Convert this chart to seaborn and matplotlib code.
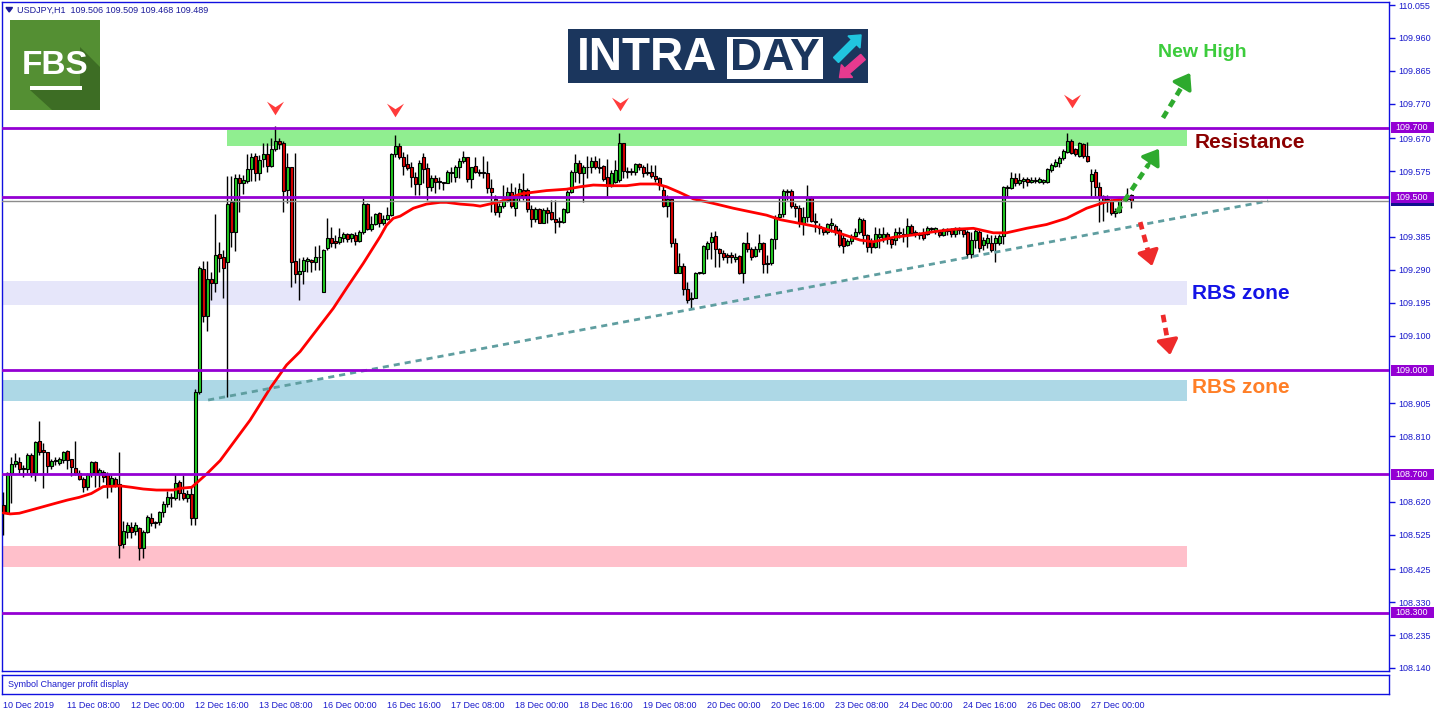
import numpy as np
import matplotlib
matplotlib.use("Agg")
import matplotlib.pyplot as plt
import matplotlib.transforms as mtransforms
from matplotlib.patches import Rectangle, Polygon, FancyArrow
from matplotlib.path import Path
import seaborn as sns

# ---------------- data (USDJPY H1) ----------------
opens = [108.611,108.587,108.702,108.729,108.734,108.719,108.716,108.755,108.702,108.795,
108.769,108.765,108.723,108.738,108.733,108.741,108.767,108.743,108.719,108.702,
108.686,108.662,108.702,108.734,108.702,108.707,108.700,108.668,108.686,108.671,
108.497,108.534,108.548,108.537,108.545,108.486,108.534,108.572,108.563,108.561,
108.590,108.613,108.630,108.630,108.678,108.645,108.632,108.642,108.572,108.938,
109.292,109.158,109.264,109.251,109.336,109.328,109.312,109.487,109.400,109.554,
109.540,109.548,109.580,109.619,109.569,109.609,109.626,109.591,109.638,109.662,
109.655,109.521,109.586,109.316,109.277,109.287,109.317,109.319,109.314,109.326,
109.227,109.352,109.381,109.373,109.371,109.381,109.393,109.381,109.391,109.374,
109.398,109.480,109.408,109.423,109.453,109.424,109.437,109.449,109.625,109.648,
109.617,109.596,109.588,109.557,109.538,109.615,109.585,109.530,109.554,109.543,
109.544,109.542,109.569,109.559,109.586,109.603,109.615,109.551,109.590,109.573,
109.573,109.569,109.526,109.495,109.456,109.474,109.492,109.514,109.468,109.504,
109.521,109.521,109.465,109.437,109.465,109.426,109.463,109.456,109.437,109.431,
109.429,109.458,109.514,109.572,109.600,109.569,109.587,109.588,109.604,109.587,
109.590,109.557,109.533,109.545,109.550,109.655,109.576,109.575,109.572,109.595,
109.588,109.569,109.572,109.561,109.554,109.521,109.474,109.495,109.369,109.282,
109.302,109.234,109.209,109.209,109.280,109.280,109.350,109.371,109.388,109.350,
109.340,109.334,109.332,109.320,109.330,109.282,109.369,109.349,109.330,109.350,
109.369,109.309,109.309,109.379,109.443,109.451,109.519,109.519,109.474,109.468,
109.426,109.443,109.499,109.432,109.417,109.410,109.400,109.419,109.417,109.405,
109.381,109.362,109.374,109.388,109.398,109.434,109.391,109.374,109.357,109.386,
109.381,109.393,109.378,109.376,109.400,109.395,109.393,109.417,109.398,109.395,
109.395,109.395,109.410,109.403,109.400,109.391,109.407,109.405,109.395,109.410,
109.405,109.400,109.337,109.376,109.400,109.362,109.369,109.369,109.369,109.369,
109.388,109.528,109.525,109.554,109.542,109.547,109.551,109.543,109.547,109.545,
109.545,109.545,109.578,109.591,109.600,109.612,109.631,109.663,109.638,109.619,
109.653,109.619,109.548,109.573,109.530,109.503,109.496,109.490,109.453,109.458,
109.494,109.501,109.506]

highs = [108.649,108.707,108.750,108.762,108.750,108.726,108.760,108.762,108.795,108.853,
108.789,108.765,108.743,108.750,108.750,108.767,108.770,108.745,108.795,108.712,
108.692,108.702,108.739,108.739,108.719,108.712,108.707,108.697,108.692,108.765,
108.565,108.563,108.561,108.563,108.548,108.539,108.582,108.587,108.566,108.594,
108.622,108.652,108.646,108.700,108.683,108.697,108.654,108.662,108.945,109.301,
109.315,109.315,109.285,109.451,109.371,109.347,109.561,109.561,109.566,109.566,
109.564,109.626,109.628,109.628,109.622,109.655,109.657,109.670,109.705,109.670,
109.662,109.628,109.588,109.628,109.323,109.326,109.328,109.321,109.359,109.362,
109.349,109.441,109.414,109.391,109.410,109.400,109.397,109.396,109.400,109.405,
109.499,109.482,109.445,109.455,109.456,109.448,109.471,109.628,109.680,109.655,
109.629,109.626,109.602,109.573,109.607,109.627,109.598,109.564,109.564,109.557,
109.545,109.578,109.588,109.593,109.612,109.633,109.617,109.588,109.615,109.580,
109.619,109.605,109.551,109.506,109.482,109.535,109.530,109.540,109.530,109.542,
109.569,109.525,109.477,109.472,109.468,109.468,109.472,109.492,109.492,109.442,
109.468,109.521,109.578,109.626,109.607,109.593,109.619,109.617,109.619,109.612,
109.593,109.609,109.578,109.607,109.684,109.657,109.588,109.583,109.598,109.598,
109.593,109.598,109.593,109.593,109.557,109.535,109.506,109.497,109.381,109.340,
109.309,109.256,109.227,109.285,109.285,109.362,109.374,109.400,109.402,109.352,
109.347,109.340,109.342,109.338,109.333,109.371,109.400,109.357,109.359,109.393,
109.371,109.333,109.381,109.448,109.501,109.523,109.523,109.523,109.482,109.477,
109.471,109.535,109.503,109.453,109.424,109.415,109.426,109.439,109.422,109.410,
109.391,109.378,109.393,109.410,109.443,109.439,109.395,109.381,109.413,109.410,
109.413,109.400,109.386,109.410,109.415,109.410,109.439,109.422,109.405,109.400,
109.410,109.417,109.413,109.413,109.405,109.410,109.410,109.410,109.413,109.415,
109.410,109.405,109.400,109.407,109.405,109.384,109.395,109.391,109.391,109.395,
109.532,109.535,109.573,109.569,109.569,109.557,109.559,109.557,109.557,109.559,
109.552,109.583,109.600,109.609,109.619,109.638,109.686,109.667,109.641,109.660,
109.657,109.660,109.580,109.580,109.545,109.506,109.506,109.496,109.468,109.501,
109.501,109.525,109.509]

lows = [108.524,108.585,108.617,108.720,108.702,108.692,108.702,108.692,108.680,108.755,
108.659,108.702,108.716,108.726,108.726,108.733,108.716,108.694,108.697,108.683,
108.649,108.654,108.692,108.663,108.663,108.678,108.630,108.649,108.663,108.458,
108.488,108.515,108.515,108.524,108.452,108.459,108.529,108.550,108.543,108.553,
108.577,108.604,108.604,108.625,108.625,108.625,108.620,108.553,108.553,108.930,
109.138,109.114,109.203,109.227,109.285,109.210,108.922,109.355,109.345,109.458,
109.509,109.540,109.547,109.547,109.550,109.588,109.574,109.588,109.634,109.640,
109.458,109.484,109.241,109.253,109.203,109.249,109.285,109.285,109.290,109.290,
109.225,109.347,109.357,109.352,109.364,109.371,109.371,109.371,109.362,109.371,
109.394,109.405,109.403,109.419,109.415,109.419,109.434,109.447,109.617,109.610,
109.564,109.578,109.530,109.506,109.506,109.540,109.492,109.519,109.513,109.523,
109.521,109.540,109.545,109.545,109.554,109.598,109.545,109.525,109.569,109.560,
109.556,109.511,109.458,109.448,109.442,109.468,109.487,109.468,109.446,109.490,
109.492,109.458,109.413,109.429,109.424,109.424,109.426,109.434,109.397,109.415,
109.424,109.455,109.511,109.545,109.540,109.485,109.554,109.569,109.580,109.569,
109.548,109.503,109.530,109.542,109.545,109.554,109.554,109.564,109.564,109.578,
109.559,109.564,109.554,109.545,109.521,109.472,109.443,109.355,109.282,109.282,
109.217,109.195,109.179,109.208,109.278,109.278,109.320,109.320,109.299,109.299,
109.319,109.311,109.309,109.314,109.278,109.253,109.342,109.319,109.326,109.342,
109.282,109.282,109.304,109.350,109.440,109.443,109.492,109.470,109.443,109.413,
109.391,109.429,109.429,109.400,109.395,109.391,109.395,109.400,109.391,109.357,
109.340,109.359,109.366,109.381,109.395,109.366,109.342,109.338,109.352,109.352,
109.371,109.364,109.354,109.362,109.381,109.371,109.357,109.391,109.386,109.378,
109.376,109.391,109.400,109.395,109.386,109.388,109.391,109.386,109.386,109.395,
109.386,109.323,109.323,109.352,109.342,109.347,109.352,109.342,109.314,109.362,
109.366,109.501,109.523,109.532,109.535,109.525,109.532,109.540,109.540,109.542,
109.538,109.542,109.574,109.586,109.588,109.607,109.628,109.624,109.619,109.615,
109.612,109.602,109.503,109.503,109.429,109.432,109.458,109.448,109.443,109.453,
109.492,109.490,109.468]

closes = [108.587,108.702,108.729,108.738,108.715,108.714,108.755,108.702,108.792,108.765,
108.765,108.723,108.738,108.741,108.743,108.763,108.741,108.721,108.702,108.686,
108.662,108.697,108.734,108.702,108.712,108.692,108.668,108.688,108.668,108.495,
108.536,108.553,108.534,108.553,108.486,108.532,108.577,108.560,108.560,108.590,
108.613,108.633,108.635,108.673,108.645,108.630,108.642,108.572,108.938,109.294,
109.158,109.264,109.251,109.333,109.323,109.294,109.480,109.400,109.554,109.542,
109.550,109.580,109.616,109.571,109.607,109.626,109.591,109.638,109.663,109.653,
109.519,109.586,109.314,109.277,109.287,109.318,109.320,109.314,109.326,109.328,
109.347,109.381,109.368,109.368,109.384,109.393,109.378,109.393,109.374,109.398,
109.480,109.408,109.423,109.450,109.424,109.437,109.449,109.625,109.648,109.617,
109.591,109.583,109.557,109.538,109.600,109.580,109.530,109.554,109.545,109.547,
109.542,109.572,109.573,109.588,109.605,109.615,109.551,109.586,109.573,109.571,
109.570,109.526,109.516,109.458,109.474,109.492,109.514,109.474,109.506,109.523,
109.501,109.465,109.437,109.465,109.424,109.463,109.455,109.437,109.427,109.427,
109.465,109.514,109.573,109.600,109.569,109.586,109.586,109.604,109.586,109.585,
109.552,109.533,109.571,109.578,109.655,109.576,109.572,109.572,109.595,109.586,
109.569,109.574,109.561,109.552,109.535,109.474,109.495,109.368,109.282,109.302,
109.234,109.203,109.206,109.280,109.283,109.359,109.369,109.384,109.349,109.340,
109.326,109.328,109.328,109.328,109.280,109.367,109.349,109.328,109.350,109.369,
109.306,109.306,109.379,109.443,109.451,109.519,109.516,109.474,109.468,109.426,
109.443,109.499,109.432,109.429,109.410,109.400,109.422,109.424,109.402,109.362,
109.359,109.374,109.388,109.398,109.437,109.391,109.357,109.357,109.393,109.395,
109.395,109.378,109.366,109.400,109.397,109.391,109.417,109.397,109.393,109.391,
109.381,109.410,109.407,109.410,109.391,109.407,109.403,109.395,109.410,109.405,
109.395,109.337,109.376,109.402,109.352,109.376,109.381,109.347,109.381,109.388,
109.528,109.525,109.554,109.540,109.550,109.551,109.545,109.550,109.550,109.551,
109.550,109.580,109.593,109.602,109.614,109.634,109.663,109.628,109.626,109.657,
109.619,109.605,109.567,109.530,109.503,109.487,109.490,109.455,109.461,109.496,
109.499,109.496,109.489]

# moving average (red line), sampled along its path (bar index, price)
ma_x = [0, 1.7, 4, 7.5, 10, 12.5, 16, 19, 22, 25, 27.5, 29.2, 32, 35, 38.3, 42.5, 44.2, 47.1,
        50.8, 54.2, 61.7, 66.7, 70.8, 74.2, 82.5, 85.8, 90, 94.2, 95.8, 97.5, 99.2, 102.5, 105.8,
        109.2, 110.8, 114.2, 117.5, 119.2, 124.2, 129.2, 131.7, 135.8, 140.8, 144.2, 147.5, 152.5,
        155.8, 159.2, 163.3, 165.8, 169.2, 172.5, 177.5, 182.5, 185.8, 190.8, 194.2, 199.2, 204.2,
        209.2, 214.2, 217.5, 222.5, 227.5, 232.5, 237.5, 242.5, 247.5, 250.8, 255.8, 260.8, 265.8,
        270.8, 275.8, 279.2, 282.1]
ma_y = [108.588, 108.585, 108.587, 108.598, 108.606, 108.614, 108.625, 108.633, 108.644, 108.664,
        108.665, 108.666, 108.662, 108.657, 108.654, 108.654, 108.659, 108.662, 108.700, 108.739,
        108.856, 108.948, 109.015, 109.054, 109.179, 109.237, 109.309, 109.386, 109.419, 109.439,
        109.445, 109.468, 109.480, 109.485, 109.485, 109.480, 109.477, 109.474, 109.487, 109.509,
        109.513, 109.519, 109.523, 109.530, 109.535, 109.533, 109.533, 109.538, 109.538, 109.530,
        109.513, 109.495, 109.482, 109.468, 109.460, 109.448, 109.435, 109.424, 109.413, 109.395,
        109.376, 109.371, 109.384, 109.391, 109.400, 109.407, 109.410, 109.397, 109.397, 109.410,
        109.421, 109.439, 109.468, 109.487, 109.494, 109.500]

# horizontal levels and zones
levels = [109.700, 109.500, 109.000, 108.700, 108.300]
bid_price = 109.489
zone_x0 = [55.9, -0.5, -0.5, -0.5]
zone_x1 = [295.9, 295.9, 295.9, 295.9]
zone_lo = [109.648, 109.188, 108.911, 108.432]
zone_hi = [109.694, 109.258, 108.972, 108.492]
zone_colors = ["#90ee90", "#e6e6fa", "#add8e6", "#ffc0cb"]

trend_x = [51.2, 316.2]
trend_y = [108.914, 109.489]

top_marks_x = [67.9, 97.9, 154.2, 267.2]
top_marks_y = [109.757, 109.752, 109.769, 109.778]

green_arrows = [((278.4, 109.457), (288.9, 109.640)), ((289.9, 109.729), (296.7, 109.859))]
red_arrows = [((284.2, 109.428), (287.2, 109.301)), ((289.9, 109.160), (291.7, 109.044))]

axis_ticks = [110.055, 109.960, 109.865, 109.770, 109.670, 109.575, 109.385, 109.290,
              109.195, 109.100, 108.905, 108.810, 108.620, 108.525, 108.425,
              108.330, 108.235, 108.140]
time_labels = ["10 Dec 2019", "11 Dec 08:00", "12 Dec 00:00", "12 Dec 16:00", "13 Dec 08:00",
               "16 Dec 00:00", "16 Dec 16:00", "17 Dec 08:00", "18 Dec 00:00", "18 Dec 16:00",
               "19 Dec 08:00", "20 Dec 00:00", "20 Dec 16:00", "23 Dec 08:00", "24 Dec 00:00",
               "24 Dec 16:00", "26 Dec 08:00", "27 Dec 00:00"]
time_tick_pos = [0, 16, 32, 48, 64, 80, 96, 112, 128, 144, 160, 176, 192, 208, 224, 240, 256, 272]

# ---------------- style ----------------
sns.set_style("white")
plt.rcParams["font.family"] = ["Liberation Sans", "DejaVu Sans"]

BLUE = "#1010e0"
TXT = "#1a1acc"
PURPLE = "#9400d3"
W, H = 1436, 716

def fa(l, t, r, b):
    return [l / W, 1 - b / H, (r - l) / W, (b - t) / H]

fig = plt.figure(figsize=(W / 100, H / 100), dpi=100)
fig.patch.set_facecolor("white")
ax = fig.add_axes(fa(2, 2, 1389, 671))
ax.set_xlim(-0.325, 346.4)
ax.set_ylim(108.1313, 110.0637)

# zones
for x0, x1, lo, hi, col in zip(zone_x0, zone_x1, zone_lo, zone_hi, zone_colors):
    ax.add_patch(Rectangle((x0, lo), x1 - x0, hi - lo, facecolor=col, edgecolor="none", zorder=1))

# candles
n = min(len(opens), len(highs), len(lows), len(closes))
o = np.array(opens[:n]); h = np.array(highs[:n]); l = np.array(lows[:n]); c = np.array(closes[:n])
idx = np.arange(n)
bull = c >= o
lo_b = np.minimum(o, c)
hb = np.maximum(np.abs(c - o), 0.0015)
ax.vlines(idx, l, h, color="black", lw=1.0, zorder=3)
ax.bar(idx[bull], hb[bull], bottom=lo_b[bull], width=0.75, color="#22cc22",
       edgecolor="black", linewidth=0.8, zorder=4)
ax.bar(idx[~bull], hb[~bull], bottom=lo_b[~bull], width=0.75, color="#dd0000",
       edgecolor="black", linewidth=0.8, zorder=4)

# moving average and trend line
sns.lineplot(x=ma_x, y=ma_y, ax=ax, color="#ff0000", lw=2.0, sort=False, estimator=None, zorder=5)
sns.lineplot(x=trend_x, y=trend_y, ax=ax, color="#5f9ea0", lw=2.0, linestyle=(0, (2.2, 1.8)),
             sort=False, estimator=None, zorder=5)

# levels
ax.axhline(bid_price, color="#8c8c8c", lw=1.0, zorder=5)
for lv in levels:
    ax.axhline(lv, color=PURPLE, lw=2.0, zorder=6)

# red chevron markers
chev = Path([(-1, 0.8), (0, 0.15), (1, 0.8), (0, -0.8), (-1, 0.8)],
            [Path.MOVETO, Path.LINETO, Path.LINETO, Path.LINETO, Path.CLOSEPOLY])
ax.scatter(top_marks_x, top_marks_y, marker=chev, s=150, color="#ff3b3b", linewidths=0, zorder=7)

# dashed arrows
def dashed_arrow(p0, p1, col):
    (x0, y0), (x1, y1) = p0, p1
    xm, ym = x0 + 0.75 * (x1 - x0), y0 + 0.75 * (y1 - y0)
    ax.plot([x0, xm], [y0, ym], color=col, lw=3.4, linestyle=(0, (1.6, 1.2)),
            solid_capstyle="butt", zorder=8)
    ax.annotate("", xy=(x1, y1), xytext=(xm, ym),
                arrowprops=dict(arrowstyle="-|>,head_length=0.7,head_width=0.5", color=col,
                                lw=2.5, shrinkA=0, shrinkB=0, mutation_scale=13), zorder=8)

for a, b in green_arrows:
    dashed_arrow(a, b, "#2eaa2e")
for a, b in red_arrows:
    dashed_arrow(a, b, "#ee2a2a")

# annotations
ax.text(288.7, 109.919, "New High", color="#3ccc3c", fontsize=14, fontweight="bold",
        va="center", ha="left", zorder=9)
ax.text(297.9, 109.659, "Resistance", color="#8b0000", fontsize=15, fontweight="bold",
        va="center", ha="left", zorder=9)
ax.text(297.2, 109.223, "RBS zone", color="#1414e6", fontsize=15, fontweight="bold",
        va="center", ha="left", zorder=9)
ax.text(297.2, 108.949, "RBS zone", color="#ff7f27", fontsize=15, fontweight="bold",
        va="center", ha="left", zorder=9)

# axis styling
ax.set_xticks([])
ax.yaxis.tick_right()
ax.set_yticks(axis_ticks)
ax.set_yticklabels([f"{v:.3f}" for v in axis_ticks])
ax.tick_params(axis="y", direction="out", length=4, width=1, color=BLUE, labelcolor=TXT,
               labelsize=6.5, pad=3)
for sp in ax.spines.values():
    sp.set_color(BLUE)
    sp.set_linewidth(1.0)

# price tags on right scale
tr = mtransforms.blended_transform_factory(ax.transAxes, ax.transData)
bx0 = (1391 - 2) / 1387
bw = 43 / 1387
bh = 11 / 346.2
ax.add_patch(Rectangle((bx0, bid_price - bh / 2), bw, bh, transform=tr, facecolor="#101090",
                       edgecolor="none", clip_on=False, zorder=20))
for lv in levels:
    ax.add_patch(Rectangle((bx0, lv - bh / 2), bw, bh, transform=tr, facecolor=PURPLE,
                           edgecolor="none", clip_on=False, zorder=22))
    ax.text(bx0 + 4 / 1387, lv, f"{lv:.3f}", transform=tr, color="white", fontsize=6.5,
            va="center", ha="left", clip_on=False, zorder=23)

# sub panel with time axis
sax = fig.add_axes(fa(2, 675, 1389, 694))
sax.set_xlim(ax.get_xlim())
sax.set_ylim(0, 1)
sax.set_yticks([])
sax.set_xticks(time_tick_pos)
sax.set_xticklabels(time_labels, ha="left")
sax.tick_params(axis="x", direction="out", length=4, width=1, color=BLUE, labelcolor=TXT,
                labelsize=6.5, pad=1)
for sp in sax.spines.values():
    sp.set_color(BLUE)
    sp.set_linewidth(1.0)
sax.text(0.004, 0.5, "Symbol Changer profit display", transform=sax.transAxes, color=TXT,
         fontsize=6.5, va="center", ha="left")

# overlay (logos, header)
ov = fig.add_axes([0, 0, 1, 1], zorder=30)
ov.set_xlim(0, W)
ov.set_ylim(H, 0)
ov.axis("off")
ov.patch.set_alpha(0)

ov.add_patch(Polygon([(6, 7.5), (12.5, 7.5), (9.25, 12)], closed=True, color="#1a1a99"))
ov.text(17, 10, "USDJPY,H1  109.506 109.509 109.468 109.489", fontsize=6.5, color="#1a1a99",
        va="center", ha="left")

# FBS logo
ov.add_patch(Rectangle((10, 20), 90, 90, facecolor="#548f33", edgecolor="none"))
ov.add_patch(Polygon([(80, 47), (100, 67), (100, 110), (52, 110), (30, 90), (80, 90)],
                     closed=True, facecolor="#3d6d24", edgecolor="none"))
ov.text(55, 65, "FBS", color="white", fontsize=24, fontweight="bold", ha="center", va="center")
ov.add_patch(Rectangle((30, 86), 52, 4, facecolor="white", edgecolor="none"))

# INTRADAY logo
NAVY = "#1b365d"
ov.add_patch(Rectangle((568, 29), 300, 54, facecolor=NAVY, edgecolor="none"))
ov.text(577, 58, "INTRA", color="white", fontsize=33, fontweight="bold", ha="left", va="center")
ov.add_patch(Rectangle((727, 37), 96, 42, facecolor="white", edgecolor="none"))
ov.text(775, 58, "DAY", color=NAVY, fontsize=32, fontweight="bold", ha="center", va="center")
ov.add_patch(FancyArrow(836, 60, 18, -18, width=7, head_width=17, head_length=10,
                        length_includes_head=False, color="#21c5df"))
ov.add_patch(FancyArrow(863, 57, -16, 14, width=7, head_width=17, head_length=10,
                        length_includes_head=False, color="#e73a8f"))

fig.savefig("out.png", dpi=100)
